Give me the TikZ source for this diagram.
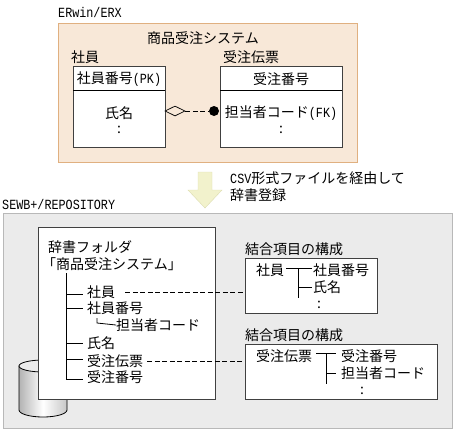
\documentclass[tikz,border=0pt]{standalone}
\usepackage{fontspec}
\usetikzlibrary{shapes,arrows,positioning,calc}
\setmainfont{Noto Sans CJK JP}
\newfontfamily\lat{Liberation Mono}[FakeStretch=0.84]
\definecolor{erfill}{HTML}{F8E8D8}
\definecolor{erline}{HTML}{E0B080}
\definecolor{repofill}{HTML}{EBEBEB}
\definecolor{repoline}{HTML}{B8B8B8}
\definecolor{arrowfill}{HTML}{F2F2CC}
\definecolor{arrowline}{HTML}{DCDCB0}

\begin{document}
\begin{tikzpicture}[
    x=1pt, y=-1pt,
    txt/.style={anchor=west, inner sep=0pt, font=\fontsize{14}{16}\selectfont},
    mid/.style={anchor=center, inner sep=0pt, font=\fontsize{14}{16}\selectfont},
    panel/.style={rectangle, draw=black!75, fill=white, line width=0.9pt, inner sep=0pt},
    conn/.style={draw=black, line width=0.8pt},
    link/.style={draw=black, line width=0.8pt, dash pattern=on 5pt off 2.5pt}
]
\useasboundingbox (0,0) rectangle (455,432);

% ERwin side
\node[panel, draw=erline, fill=erfill, minimum width=299pt, minimum height=139pt] (erx) at (207.5,92.5) {};
\node[txt] (erxlabel) at (58,12) {\lat ERwin/ERX};
\node[mid] (model) at (203,38) {商品受注システム};
\node[txt] (emplabel) at (71,57) {社員};
\node[txt] (slplabel) at (223,57) {受注伝票};

\node[panel, minimum width=92pt, minimum height=81pt] (emp) at (119,106.5) {};
\node[panel, minimum width=122pt, minimum height=81pt] (slp) at (281,106.5) {};
\draw[conn] (73,90) -- (165,90);
\draw[conn] (220,90) -- (342,90);
\node[mid] (empkey) at (119,79) {社員番号{\lat (PK)}};
\node[mid] (empname) at (119,113) {氏名};
\node[mid] (empmore) at (119,130) {:};
\node[mid] (slpkey) at (281,79) {受注番号};
\node[mid] (slpfk) at (281,113) {担当者コード{\lat (FK)}};
\node[mid] (slpmore) at (281,130) {:};

\node[diamond, draw=black, fill=erfill, line width=0.7pt, inner sep=0pt, minimum width=20pt, minimum height=10pt] (rela) at (175,111) {};
\node[circle, fill=black, inner sep=0pt, minimum size=10pt] (relb) at (214,111) {};
\draw[link] (rela) -- (relb);

% transfer arrow
\draw[arrowline, fill=arrowfill] (198,172) -- (212,172) -- (212,190) -- (222,190) -- (205,208) -- (188,190) -- (198,190) -- cycle;
\node[txt] (csv) at (230,178) {{\lat CSV}形式ファイルを経由して};
\node[txt] (reg) at (230,195) {辞書登録};

% repository side
\node[txt] (repolabel) at (2,204) {\lat SEWB+/REPOSITORY};
\node[panel, draw=repoline, fill=repofill, minimum width=449pt, minimum height=215pt] (repo) at (227.5,320.5) {};

% cylinder
\draw[conn, left color=black!30, right color=black!22, middle color=white] (19,366) -- (19,410) arc[start angle=180, end angle=360, x radius=24, y radius=-7] -- (67,366) -- cycle;
\draw[conn, fill=repofill] (43,366) ellipse[x radius=24, y radius=6];

\node[panel, minimum width=176.5pt, minimum height=172pt] (folder) at (126.75,313) {};
\node[txt] (dict) at (48,247) {辞書フォルダ};
\node[txt] (dictname) at (42,264) {「商品受注システム」};

\node[txt] (femp) at (87,292) {社員};
\node[txt] (fempno) at (87,308) {社員番号};
\node[txt] (fchg) at (116,325) {担当者コード};
\node[txt] (fname) at (87,343) {氏名};
\node[txt] (fslp) at (87,361) {受注伝票};
\node[txt] (fslpno) at (87,377) {受注番号};

\coordinate (treetop) at (66,273);
\draw[conn] (treetop) -- (66,379) -- (83,379);
\draw[conn] (66,294) -- (83,294);
\draw[conn] (66,308) -- (83,308);
\draw[conn] (66,343) -- (83,343);
\draw[conn] (66,359) -- (83,359);
\draw[conn] (97,318) -- (97,323) -- (fchg.west);

% item tables
\node[panel, minimum width=132pt, minimum height=55pt] (itema) at (311,285.5) {};
\node[panel, minimum width=192pt, minimum height=55pt] (itemb) at (341,371.5) {};
\node[txt] (itemalabel) at (245,249) {結合項目の構成};
\node[txt] (itemblabel) at (245,335) {結合項目の構成};

\draw[link] ($(femp.east)+(10,0)$) -- (femp.east -| itema.west);
\draw[link] ($(fslp.east)+(4,0)$) -- (fslp.east -| itemb.west);

\node[txt] (aroot) at (256,270) {社員};
\node[txt] (aone) at (313,270) {社員番号};
\node[txt] (atwo) at (313,287) {氏名};
\node[mid] (amore) at (319,305) {:};
\draw[conn] (286,268) -- (312,268);
\draw[conn] (298,268) -- (298,298);
\draw[conn] (298,287) -- (312,287);

\node[txt] (broot) at (256,356) {受注伝票};
\node[txt] (bone) at (341,356) {受注番号};
\node[txt] (btwo) at (341,373) {担当者コード};
\node[mid] (bmore) at (362,391) {:};
\draw[conn] (316,353) -- (336,353);
\draw[conn] (326,353) -- (326,384);
\draw[conn] (326,373) -- (336,373);

\end{tikzpicture}
\end{document}
